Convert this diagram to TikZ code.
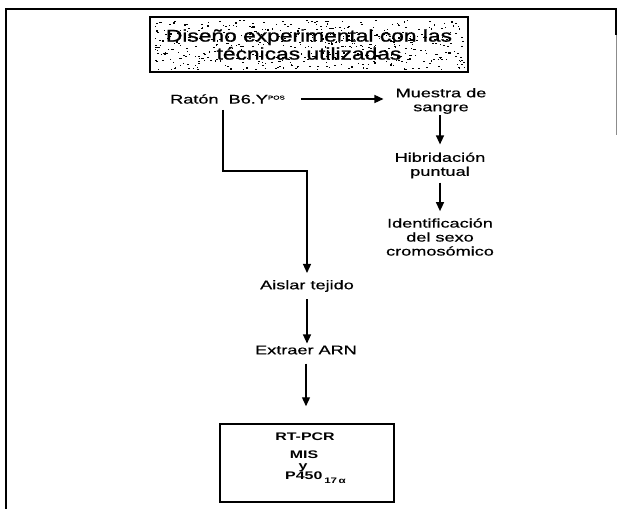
\documentclass[tikz,border=0pt]{standalone}
\usepackage{fontspec}
\setmainfont{Liberation Sans}[FakeStretch=1.45]
\newfontfamily\bodyfont{Liberation Sans}[FakeStretch=1.45, FakeBold=0.6]
\newfontfamily\titlefont{Liberation Sans}[FakeStretch=1.34, FakeBold=1.2]
\usetikzlibrary{arrows.meta}
\begin{document}
\begin{tikzpicture}[x=1pt,y=-1pt,
  lbl/.style={inner sep=0pt, font=\bodyfont\fontsize{12.5}{14}\selectfont, align=center},
  boxlbl/.style={inner sep=0pt, font=\fontsize{11}{12}\selectfont\bfseries, align=center},
  arr/.style={line width=1.3pt, -{Triangle[width=8pt,length=9pt]}},
  framepen/.style={line width=2.5pt, line cap=rect},
  speck/.style={fill=black}]
\useasboundingbox (0,0) rectangle (617,508);
\fill[white] (0,0) rectangle (617,508);
% outer frame
\draw[framepen] (6,508) -- (6,9) -- (616,9);
\draw[line width=1.5pt] (616,9) -- (616,35);
\draw[line width=0.8pt, black!45] (616,35) -- (616,135);
% speckled title background
\pgfmathsetseed{42}
\foreach \i in {1,...,520}{
  \pgfmathsetmacro{\sx}{153+311*rnd}
  \pgfmathsetmacro{\sy}{20+49*rnd}
  \pgfmathsetmacro{\sw}{0.8+1.6*rnd}
  \pgfmathsetmacro{\sh}{0.6+0.8*rnd}
  \fill[speck] (\sx,\sy) rectangle ++(\sw,\sh);
}
\node[draw, line width=2.2pt, minimum width=318pt, minimum height=55pt, inner sep=0pt,
      font=\titlefont\fontsize{17}{18}\selectfont, align=center] (title) at (309,44.5)
  {Diseño experimental con las\\técnicas utilizadas};
% nodes
\node[lbl] (raton) at (227.5,99) {Ratón\ \ B6.Y\raisebox{4pt}{\fontsize{5.5}{5.5}\selectfont POS}};
\node[lbl] (muestra) at (441,101) {Muestra de\\sangre};
\node[lbl] (hib) at (440,165.5) {Hibridación\\puntual};
\node[lbl] (ident) at (440,237) {Identificación\\del sexo\\cromosómico};
\node[lbl] (aislar) at (307,286) {Aislar tejido};
\node[lbl] (extraer) at (306,350) {Extraer ARN};
\node[draw, line width=1.5pt, minimum width=174pt, minimum height=78pt, inner sep=0pt] (box) at (307,463) {};
\node[boxlbl] (rt) at (305,437) {RT-PCR};
\node[boxlbl] (mis) at (304,455) {MIS};
\node[boxlbl] (yy) at (303,467.5) {y};
\node[boxlbl, anchor=west] (p450) at (285,478) {P450\,\raisebox{-4pt}{\fontsize{8}{8}\selectfont 17\,α}};
\coordinate (elbow) at (307,171);
% connectors
\draw[arr, shorten <=16pt, shorten >=12pt] (raton.east) -- (raton.east -| muestra.west);
\draw[arr, shorten <=1pt, shorten >=8pt] (hib.north |- muestra.south) -- (hib.north);
\draw[arr, shorten <=4pt, shorten >=7pt] (hib.south) -- (ident.north);
\draw[arr, shorten <=6pt, shorten >=7pt] ([xshift=-4.5pt]raton.south) |- (elbow) -- (aislar.north);
\draw[arr, shorten <=7pt, shorten >=2pt] (aislar.south) -- (aislar.south |- extraer.north);
\draw[arr, shorten <=9pt, shorten >=17pt] (extraer.south) -- (extraer.south |- box.north);
\end{tikzpicture}
\end{document}
